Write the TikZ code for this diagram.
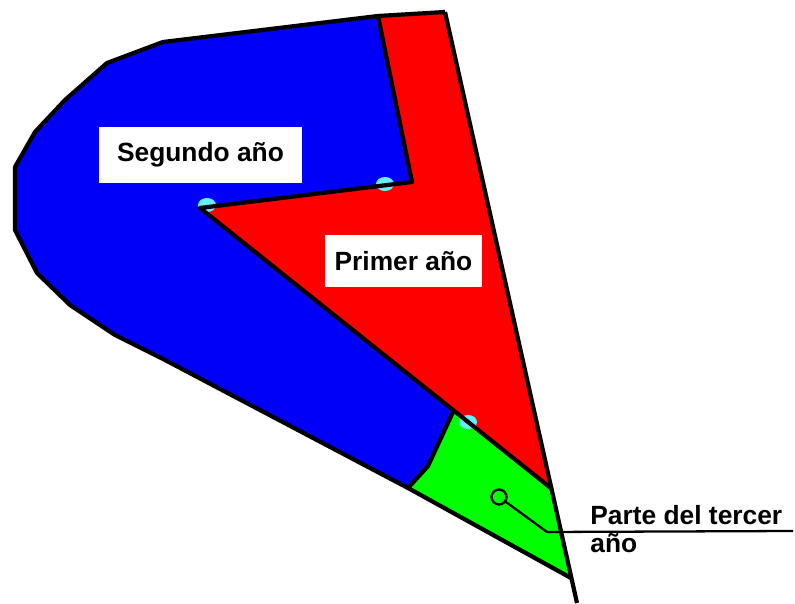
\documentclass[tikz,border=0pt]{standalone}
\usepackage{fontspec}
\setmainfont{Liberation Sans}
\definecolor{azul}{RGB}{0,0,250}
\definecolor{rojo}{RGB}{255,0,0}
\definecolor{verde}{RGB}{0,255,0}
\definecolor{celeste}{RGB}{100,240,250}

\begin{document}
\begin{tikzpicture}[x=0.02cm,y=-0.02cm,
        borde/.style={line width=2.4pt,line join=round},
        rotulo/.style={fill=white,font=\fontsize{15}{16}\selectfont\bfseries,inner sep=0pt},
        texto/.style={font=\fontsize{15}{16}\selectfont\bfseries,inner sep=0pt},
        punto/.style={fill=celeste}]
                \useasboundingbox (0,0) rectangle (795,604);
                % vertices
                \coordinate (A) at (445,12);
                \coordinate (B) at (378,16);
                \coordinate (C) at (412,182);
                \coordinate (D) at (200,208);
                \coordinate (E) at (453,412);
                \coordinate (K) at (428,466);
                \coordinate (F) at (552,489);
                \coordinate (G) at (571,578);
                \coordinate (H) at (408,488);
                \coordinate (Z) at (577,603);
                % segundo año
                \fill [azul] (H) -- (165,360) -- (115,335) -- (70,305) -- (37,273) -- (15,230)
                    -- (15,167) -- (35,132) -- (65,100) -- (107,63) -- (163,42) -- (B)
                    -- (C) -- (D) -- (E) -- (K) -- (H) -- cycle;
                % primer año
                \fill [rojo] (B) -- (A) -- (F) -- (E) -- (D) -- (C) -- cycle;
                % tercer año
                \fill [verde] (E) -- (F) -- (G) -- (H) -- (K) -- cycle;
                \fill [punto] (207,205) ellipse [x radius=9,y radius=7];
                \fill [punto] (385,184) ellipse [x radius=9,y radius=7];
                \fill [punto] (468,422) ellipse [x radius=9,y radius=7];
                % contornos
                \draw [borde] (H) -- (165,360) -- (115,335) -- (70,305) -- (37,273) -- (15,230)
                    -- (15,167) -- (35,132) -- (65,100) -- (107,63) -- (163,42) -- (B) -- (A);
                \draw [borde] (A) -- (Z);
                \draw [borde] (B) -- (C) -- (D) -- (F);
                \draw [borde] (E) -- (K) -- (H) -- (G);
                % rotulos
                \node [rotulo,minimum width=4.06cm,minimum height=1.12cm] (segundo) at (200.5,155) {Segundo año};
                \node [rotulo,minimum width=3.14cm,minimum height=1.04cm] (primer) at (403.5,261) {Primer año};
                \node [draw,circle,line width=1.3pt,minimum size=0.3cm,inner sep=0pt] (marca) at (499,497) {};
                \coordinate (codo) at (547,532);
                \coordinate (fin) at (793,531);
                \draw [line width=1.3pt] (marca) -- (codo) -- (fin);
                \node [texto,anchor=base west] (tercer) at (590,525) {Parte del tercer};
                \node [texto,anchor=base west] (tercerb) at (590,553) {año};
            \end{tikzpicture}
\end{document}
